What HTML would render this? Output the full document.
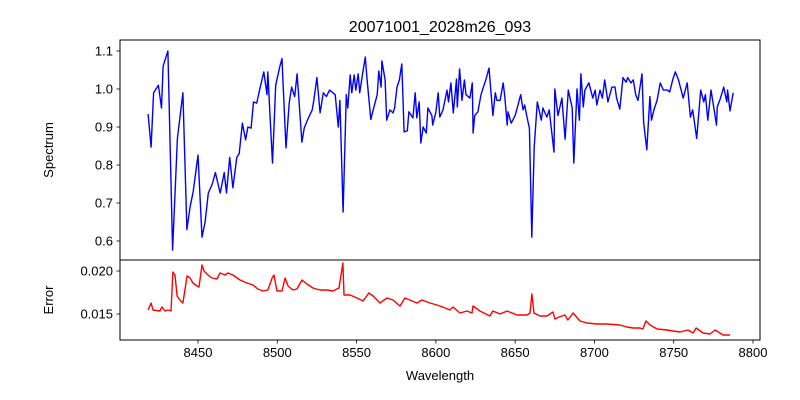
<!DOCTYPE html>
<html><head><meta charset="utf-8"><style>
body{margin:0;background:#fff;}
svg{display:block;font-family:"Liberation Sans","DejaVu Sans",sans-serif;}
</style></head><body>
<svg id="chart" width="800" height="400" viewBox="0 0 800 400" xmlns="http://www.w3.org/2000/svg">
<rect width="800" height="400" fill="#fff"/>
<text x="440" y="32" text-anchor="middle" font-size="16">20071001_2028m26_093</text>
<g id="topPanel"></g>
<g id="botPanel"></g>
<text x="0" y="0" transform="translate(53,150) rotate(-90)" text-anchor="middle" font-size="13">Spectrum</text>
<text x="0" y="0" transform="translate(53,300) rotate(-90)" text-anchor="middle" font-size="13">Error</text>
<text x="440" y="380" text-anchor="middle" font-size="13">Wavelength</text>
</svg>
<script>
const specWave=[8418.5,8420.4,8422,8425,8427,8428,8431,8434,8437,8440.5,8443,8445,8447,8450,8452.5,8454.5,8456.5,8459,8461,8464,8466.5,8468,8470,8472,8474.5,8476,8478,8480,8481.5,8483.5,8485,8487,8489,8491.5,8493.5,8494,8495.5,8497,8499,8501.5,8503,8503.5,8505.5,8507.5,8509,8511,8512.5,8515.5,8517,8519,8522,8523,8525,8527,8529,8531,8533,8536.5,8538.5,8539.5,8541.5,8543.5,8544.5,8546,8547,8548.5,8549.5,8551,8552,8554,8555.5,8556.5,8559,8560.5,8563,8564,8565.5,8566,8568,8569,8571,8573,8574,8575.5,8577,8578.5,8580,8582,8583,8585.5,8587,8588,8589.5,8590.5,8592,8594,8595,8597.5,8598,8600,8601.5,8602.5,8604.5,8607,8608,8609.5,8611,8613,8613.5,8615,8616.5,8618,8619,8621.5,8623,8623.5,8624.5,8626.5,8628.5,8630,8631.5,8633.5,8636,8637.5,8638.5,8640.5,8642.5,8643.5,8645,8645.5,8647.5,8650,8651,8653.5,8655,8656,8657.5,8659,8660.5,8662,8664,8666.5,8667.5,8670,8671.5,8674.5,8675,8677,8679.5,8681.5,8683.5,8686,8687,8689,8690.5,8691.5,8693,8694,8696.5,8699,8700.5,8701.5,8703.5,8705,8706.5,8708.5,8711,8713,8714,8716,8718,8720,8721,8723,8724.5,8726,8727.5,8730,8731,8733,8735,8736,8737.5,8739.5,8741.5,8743.5,8746,8747.5,8749.5,8751,8753,8756,8758.5,8760.5,8762,8764.5,8767,8769,8770,8771.5,8773.5,8775,8777,8777.5,8779.5,8781.5,8783.5,8784,8785.5,8787.5];
const specFlux=[0.934,0.847,0.99,1.01,0.95,1.06,1.10,0.576,0.87,0.99,0.63,0.69,0.73,0.826,0.61,0.65,0.726,0.75,0.78,0.726,0.78,0.726,0.82,0.74,0.82,0.83,0.91,0.866,0.90,0.897,0.966,0.963,1.0,1.045,0.985,1.045,0.926,0.805,1.01,1.058,1.08,1.03,0.845,0.963,1.005,0.98,1.04,0.86,0.897,0.918,0.945,0.97,1.03,0.937,0.99,0.98,0.997,0.985,0.90,0.97,0.676,0.985,0.95,1.037,0.99,1.037,0.997,1.04,0.99,1.045,1.084,1.03,0.92,0.945,0.985,1.047,1.005,1.074,1.024,0.918,0.945,0.937,0.95,1.005,1.024,1.066,0.887,0.89,0.94,0.924,0.99,0.924,0.966,0.858,0.90,0.884,0.95,0.93,0.905,0.94,0.99,0.926,0.945,0.997,0.966,1.016,0.937,1.026,0.953,1.053,0.97,1.024,0.985,0.976,1.016,0.884,0.93,0.94,0.985,1.005,1.024,1.055,0.93,0.99,0.97,0.97,1.016,0.98,0.905,0.94,0.91,0.93,0.945,0.985,0.945,0.958,0.926,0.897,0.61,0.847,0.966,0.918,0.95,0.926,0.945,0.834,1.0,0.93,0.976,0.868,0.997,0.95,0.805,1.0,0.918,1.04,0.953,0.997,1.016,0.976,0.997,0.958,0.997,0.976,1.024,0.966,1.005,1.005,0.976,0.947,1.03,1.018,1.03,1.016,1.024,0.985,0.97,1.04,0.913,0.84,0.98,0.918,0.945,0.97,1.016,0.997,0.997,0.992,1.026,1.045,1.024,0.976,1.016,0.926,0.945,0.87,0.997,0.966,0.985,0.918,0.997,0.958,0.905,0.953,0.976,1.005,0.966,0.997,0.942,0.99];
const errWave=[8418.5,8420.4,8421.6,8426,8427.3,8429.2,8431.1,8433,8434.2,8435.5,8436.8,8438.6,8440.5,8443.1,8445,8446.8,8449.4,8450.6,8452.5,8453.8,8456.3,8458.8,8462,8463.9,8467,8468.9,8472.1,8476.5,8480.9,8484.7,8487.8,8491,8494.1,8496.7,8497.9,8499.8,8503,8504.9,8506.8,8509.9,8512.4,8515.6,8518.7,8522.5,8526.9,8531.4,8535.1,8538.9,8541.4,8542.1,8545.9,8550.3,8554.1,8557.8,8560.4,8564.8,8569.2,8573,8577.4,8580.5,8585,8588.1,8591.3,8596.3,8600.7,8605.8,8608.9,8610.8,8615.2,8619.6,8622.8,8623.4,8627.8,8634.1,8636,8640.5,8644.9,8651.2,8657.5,8659.4,8660.6,8661.9,8665.7,8670.1,8673.9,8675.1,8677.7,8681.4,8683.3,8686.5,8690.9,8695.3,8701.6,8707.9,8716.1,8720.5,8724.3,8728.7,8730.6,8732.5,8735.1,8739.5,8745.8,8749.6,8754,8759,8762.2,8764.1,8768.5,8772.9,8776.1,8781.1,8785.5];
const errVal=[0.01547,0.01628,0.01547,0.01535,0.01581,0.01535,0.01547,0.01535,0.01988,0.01953,0.01709,0.01663,0.01628,0.01942,0.01919,0.0186,0.01826,0.01814,0.0207,0.0200,0.01953,0.01919,0.01907,0.01977,0.01953,0.01977,0.01953,0.01895,0.0186,0.01837,0.01791,0.01767,0.01779,0.01919,0.01953,0.01767,0.01767,0.01919,0.01826,0.01779,0.01791,0.01895,0.01849,0.01802,0.01779,0.01779,0.01767,0.01802,0.02093,0.01721,0.01721,0.01686,0.01651,0.01744,0.01709,0.01628,0.01686,0.01663,0.01593,0.01686,0.01651,0.01628,0.01663,0.01628,0.01605,0.0157,0.01547,0.01581,0.01512,0.01535,0.01512,0.01593,0.01535,0.01477,0.01535,0.015,0.01535,0.01488,0.01488,0.01512,0.01733,0.01512,0.01477,0.01477,0.01523,0.01442,0.01465,0.01488,0.0143,0.01512,0.01419,0.01395,0.01384,0.01384,0.01372,0.01349,0.01337,0.01337,0.01326,0.01419,0.01372,0.01326,0.01314,0.01302,0.01291,0.01314,0.01279,0.01337,0.01279,0.01267,0.01314,0.01256,0.01256];
const xTicks=[8450,8500,8550,8600,8650,8700,8750,8800];
const specTicks=[0.6,0.7,0.8,0.9,1.0,1.1];
const errTicks=[0.015,0.020];

const NS="http://www.w3.org/2000/svg";
const L=120,R=760,T1=40,B1=260,T2=260,B2=340;
const xs=w=>198+(w-8450)*1.5857;
const ys1=v=>89-(v-1.0)*380;
const ys2=v=>271-(v-0.020)*8600;
function mk(tag,attrs,parent){const e=document.createElementNS(NS,tag);for(const k in attrs)e.setAttribute(k,attrs[k]);parent.appendChild(e);return e;}
const gTop=document.getElementById('topPanel'),gBot=document.getElementById('botPanel');

function panel(g,T,B,ys,ticks,fmt,wave,vals,color,name){
  let d='';wave.forEach((w,i)=>{d+=(i?'L':'M')+xs(w).toFixed(1)+','+ys(vals[i]).toFixed(1);});
  const p=mk('path',{d:d,fill:'none',stroke:color,'stroke-width':1.4,'stroke-linejoin':'round'},g);
  
  
  const f=mk('rect',{x:L,y:T,width:R-L,height:B-T,fill:'none',stroke:'#000','stroke-width':1},g);
  
  
  ticks.forEach(t=>{const y=ys(t);
    mk('line',{x1:L-3.5,x2:L,y1:y,y2:y,stroke:'#000','stroke-width':0.8},g);
    const tx=mk('text',{x:L-7,y:y+4.5,'text-anchor':'end','font-size':13},g);
    tx.textContent=fmt(t);
    
    
  });
}
panel(gTop,T1,B1,ys1,specTicks,t=>t.toFixed(1),specWave,specFlux,'#0000ff','spectrum-line');
panel(gBot,T2,B2,ys2,errTicks,t=>t.toFixed(3),errWave,errVal,'#ff0000','error-line');
xTicks.forEach(t=>{const x=xs(t);
  mk('line',{x1:x,x2:x,y1:B2,y2:B2+3.5,stroke:'#000','stroke-width':0.8},gBot);
  const tx=mk('text',{x:x,y:B2+17,'text-anchor':'middle','font-size':13},gBot);
  tx.textContent=t;
  
  
});
</script>
</body></html>
